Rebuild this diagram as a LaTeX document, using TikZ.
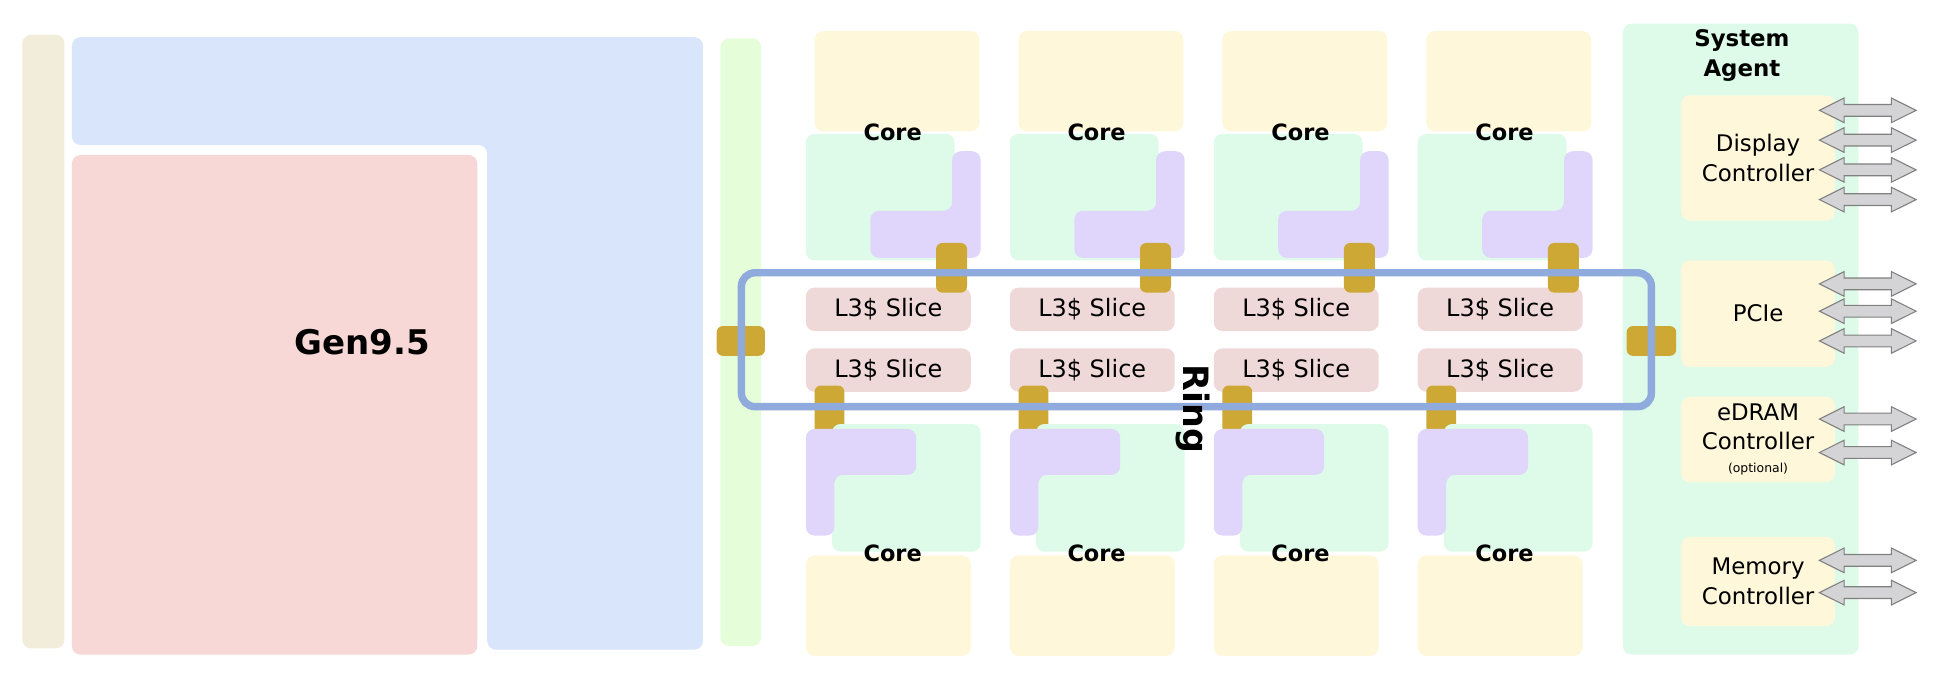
\documentclass[tikz,border=0pt]{standalone}
\usepackage{fontspec}
\setmainfont{DejaVu Sans}
\usepackage{xcolor}
\usetikzlibrary{shapes.arrows,positioning}

\definecolor{barbeige}{RGB}{242,237,219}
\definecolor{gpublue}{RGB}{217,229,251}
\definecolor{gpupink}{RGB}{248,215,215}
\definecolor{barlime}{RGB}{230,253,217}
\definecolor{coreyellow}{RGB}{254,247,218}
\definecolor{coregreen}{RGB}{221,251,232}
\definecolor{corepurple}{RGB}{224,214,251}
\definecolor{slicepink}{RGB}{239,216,216}
\definecolor{stopgold}{RGB}{205,168,52}
\definecolor{ringblue}{RGB}{143,170,220}
\definecolor{iogray}{RGB}{212,211,213}

\begin{document}
\begin{tikzpicture}[
  x=0.2mm, y=-0.2mm,
  every node/.style={font=\fontsize{10.5}{13.6}\selectfont, inner sep=0pt},
  area/.style={rounded corners=1.4mm},
  corelabel/.style={font=\fontsize{10.3}{12}\selectfont\bfseries},
  slice/.style={fill=slicepink, rounded corners=1.4mm, minimum width=26.6mm,
                minimum height=7mm, font=\fontsize{11}{13}\selectfont},
  ringstop/.style={fill=stopgold, rounded corners=1mm},
  saunit/.style={fill=coreyellow, rounded corners=1.4mm, minimum width=24.8mm, align=center},
  io/.style={double arrow, draw=black!50, fill=iogray, line width=0.5pt,
             inner xsep=0pt, inner ysep=0.86mm, minimum height=15.6mm,
             double arrow head extend=1.04mm, double arrow tip angle=53}
]
\useasboundingbox (0,0) rectangle (1568,557);

% graphics side
\fill[barbeige, area] (18,28) rectangle (52,523);
\fill[gpublue, area] (58,30) -- (567,30) -- (567,524) -- (393,524) -- (393,117) -- (58,117) -- cycle;
\fill[gpupink, area] (58,125) rectangle (385,528);
\node[font=\fontsize{15.6}{18}\selectfont\bfseries] (gen) at (292,276) {Gen9.5};
\fill[barlime, area] (581,31) rectangle (614,521);

% cores and cache slices
\foreach \i in {0,...,3} {
  \begin{scope}[shift={(164.5*\i,0)}]
    \fill[coreyellow, area] (657,25) rectangle (790,106);
    \fill[coregreen, area] (650,108) rectangle (770,210);
    \fill[corepurple, area] (768,122) -- (791,122) -- (791,208) -- (702,208) -- (702,170) -- (768,170) -- cycle;
    \node[corelabel] (coreT\i) at (720,107) {Core};
    \node[slice] (sliceA\i) at (716.5,249.5) {L3\$ Slice};
    \node[slice] (sliceB\i) at (716.5,298.5) {L3\$ Slice};
    \fill[ringstop] (755,196) rectangle (780,236);
    \fill[ringstop] (657,311) rectangle (681,350);
    \fill[coregreen, area] (671,342) rectangle (791,445);
    \fill[corepurple, area] (650,346) -- (739,346) -- (739,383) -- (673,383) -- (673,432) -- (650,432) -- cycle;
    \fill[coreyellow, area] (650,448) rectangle (783,529);
    \node[corelabel] (coreB\i) at (720,446) {Core};
  \end{scope}
}

% system agent
\fill[coregreen, area] (1309,19) rectangle (1499,528);
\node[font=\fontsize{10.5}{13.6}\selectfont\bfseries, align=center] (satitle) at (1405,45) {System\\Agent};
\node[saunit, minimum height=20.2mm] (disp) at (1418,127.5) {Display\\Controller};
\node[saunit, minimum height=17.2mm] (pcie) at (1418,253) {PCIe};
\node[saunit, minimum height=13.8mm] (edram) at (1418,354.5)
  {eDRAM\\Controller\\[-3pt]{\fontsize{5.7}{6}\selectfont(optional)}};
\node[saunit, minimum height=14.4mm] (mem) at (1418,469) {Memory\\Controller};

\foreach \y [count=\k] in {89,113,137,161} \node[io] (dispio\k) at (1506.5,\y) {};
\foreach \y [count=\k] in {229,251,275} \node[io] (pcieio\k) at (1506.5,\y) {};
\foreach \y [count=\k] in {338,365} \node[io] (edramio\k) at (1506.5,\y) {};
\foreach \y [count=\k] in {452,478} \node[io] (memio\k) at (1506.5,\y) {};

% ring
\fill[ringstop] (578,263) rectangle (617,287);
\fill[ringstop] (1312,263) rectangle (1352,287);
\draw[ringblue, line width=1.2mm, rounded corners=2.2mm] (598,220) rectangle (1332,328);
\node[font=\fontsize{16}{18}\selectfont\bfseries, rotate=-90] (ringlabel) at (962,330) {Ring};
\end{tikzpicture}
\end{document}
